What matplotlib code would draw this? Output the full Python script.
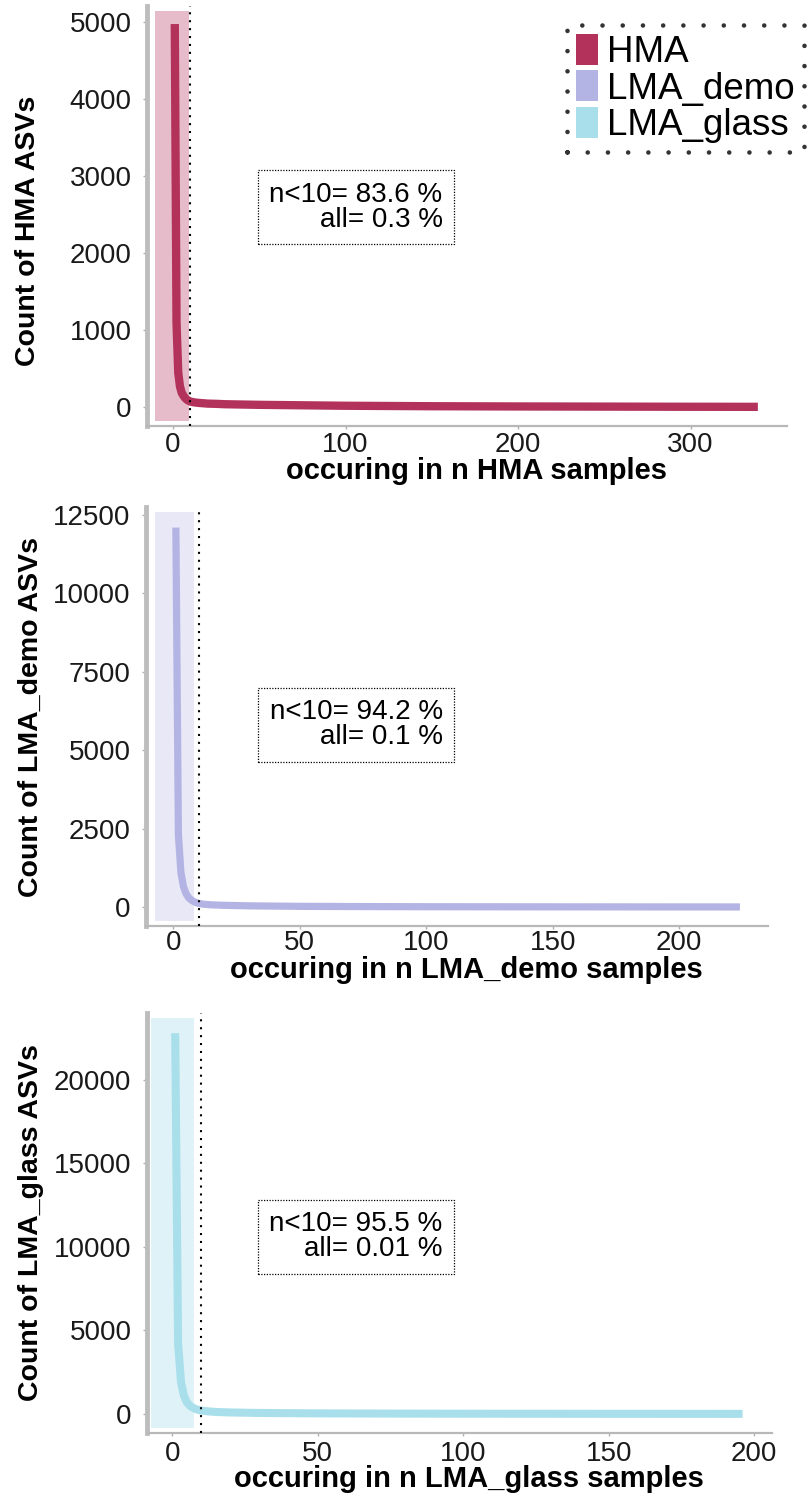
import numpy as np
import matplotlib
matplotlib.use('Agg')
import matplotlib.pyplot as plt
from matplotlib.patches import Patch

plt.rcParams['font.family'] = ['Liberation Sans', 'DejaVu Sans']

groups = ['HMA', 'LMA_demo', 'LMA_glass']
colors = ['#b3325c', '#b4b4e4', '#a9dfea']
shades = ['#e6bccb', '#e8e8f6', '#dff2f8']

# number of samples an ASV occurs in (n) and how many ASVs do so
hma_n = [1, 2, 3, 4, 5, 6, 7, 8, 9, 10, 12, 15, 20, 25, 30, 40, 50, 75, 100, 150, 200, 250, 300, 339]
hma_count = [4970, 1100, 450, 270, 190, 150, 120, 100, 85, 75, 65, 57, 48, 45, 40, 36, 32, 26, 20, 14, 11, 9, 7, 6]

demo_n = [1, 2, 3, 4, 5, 6, 7, 8, 9, 10, 12, 15, 20, 30, 50, 75, 100, 150, 200, 224]
demo_count = [12100, 2300, 1100, 650, 430, 300, 230, 180, 140, 115, 90, 70, 55, 38, 22, 15, 10, 6, 4, 3]

glass_n = [1, 2, 3, 4, 5, 6, 7, 8, 9, 10, 12, 15, 20, 30, 50, 75, 100, 150, 196]
glass_count = [22800, 4200, 1900, 1100, 700, 500, 380, 300, 240, 200, 160, 120, 90, 60, 35, 22, 15, 8, 5]

pct_lt10 = ['83.6', '94.2', '95.5']
pct_all = ['0.3', '0.1', '0.01']

xticks = [[0, 100, 200, 300], [0, 50, 100, 150, 200], [0, 50, 100, 150, 200]]
yticks = [[0, 1000, 2000, 3000, 4000, 5000],
          [0, 2500, 5000, 7500, 10000, 12500],
          [0, 5000, 10000, 15000, 20000]]

cutoff = 10

# layout per panel (pixel-measured)
axpos = [[0.1813, 0.7154, 0.7911, 0.2806],
         [0.1805, 0.3814, 0.7685, 0.2799],
         [0.1813, 0.04275, 0.7726, 0.2806]]
xlims = [(-15.3, 355.7), (-10.8, 235), (-8.8, 206)]
ylims = [(-243, 5204), (-606, 12755), (-1140, 24010)]
spans = [(-10.6, 9.0), (-7.2, 8.2), (-7.3, 7.3)]
lws = [6.0, 5.2, 5.8]
xlab_y = [-0.073, -0.072, -0.076]
ylab_y = [0.464, 0.5, 0.5]
xpads = [2.5, 1.0, 3.5]
box_xy = [(0.327, 0.521), (0.338, 0.48), (0.335, 0.467)]

data = [(hma_n, hma_count), (demo_n, demo_count), (glass_n, glass_count)]

fig = plt.figure(figsize=(8.09, 14.97), dpi=100)

for i, g in enumerate(groups):
    ax = fig.add_axes(axpos[i])
    n, cnt = data[i]
    ax.axvspan(spans[i][0], spans[i][1], ymin=0.012, ymax=0.989, color=shades[i], lw=0, zorder=1)
    ax.plot(n, cnt, color=colors[i], lw=lws[i], solid_capstyle='butt', solid_joinstyle='round', zorder=3)
    ax.axvline(cutoff, color='black', lw=1.5, linestyle=(0, (1, 2.8)), zorder=4)
    ax.set_xlim(xlims[i])
    ax.set_ylim(ylims[i])
    ax.set_xticks(xticks[i])
    ax.set_yticks(yticks[i])
    for s in ['top', 'right']:
        ax.spines[s].set_visible(False)
    ax.spines['left'].set_color('#bdbdbd')
    ax.spines['left'].set_linewidth(3.5)
    ax.spines['bottom'].set_color('#b8b8b8')
    ax.spines['bottom'].set_linewidth(1.6)
    ax.tick_params(axis='y', length=3, width=1, color='#b0b0b0', pad=8, labelsize=20, labelcolor='#1a1a1a')
    ax.tick_params(axis='x', length=2, width=1, color='#b0b0b0', pad=xpads[i], labelsize=20, labelcolor='#1a1a1a')
    ax.set_xlabel('occuring in n ' + g + ' samples', fontsize=21, fontweight='bold')
    ax.set_ylabel('Count of ' + g + ' ASVs', fontsize=20.5, fontweight='bold')
    ax.xaxis.set_label_coords(0.515, xlab_y[i])
    ax.yaxis.set_label_coords(-0.165, ylab_y[i])
    ax.patch.set_alpha(0)
    ax.text(box_xy[i][0], box_xy[i][1],
            'n<' + str(cutoff) + '= ' + pct_lt10[i] + ' %\nall= ' + pct_all[i] + ' %',
            transform=ax.transAxes, ha='center', va='center', multialignment='right',
            fontsize=20, linespacing=0.95, zorder=5,
            bbox=dict(boxstyle='square,pad=0.42', facecolor='white', edgecolor='black',
                      linestyle=(0, (1, 1.2)), linewidth=0.9))

handles = [Patch(facecolor=c, edgecolor='none') for c in colors]
leg = fig.legend(handles, groups, loc='upper left', bbox_to_anchor=(566.7 / 809, 1 - 25 / 1497),
                 borderaxespad=0, fontsize=26.5, handlelength=0.6, handleheight=0.92,
                 handletextpad=0.25, labelspacing=0.0, borderpad=0.25, fancybox=False,
                 frameon=True)
frame = leg.get_frame()
frame.set_edgecolor('black')
frame.set_linewidth(3.3)
frame.set_linestyle((0, (0.01, 4.4)))
frame.set_capstyle('round')

fig.savefig('out.png', dpi=100)
